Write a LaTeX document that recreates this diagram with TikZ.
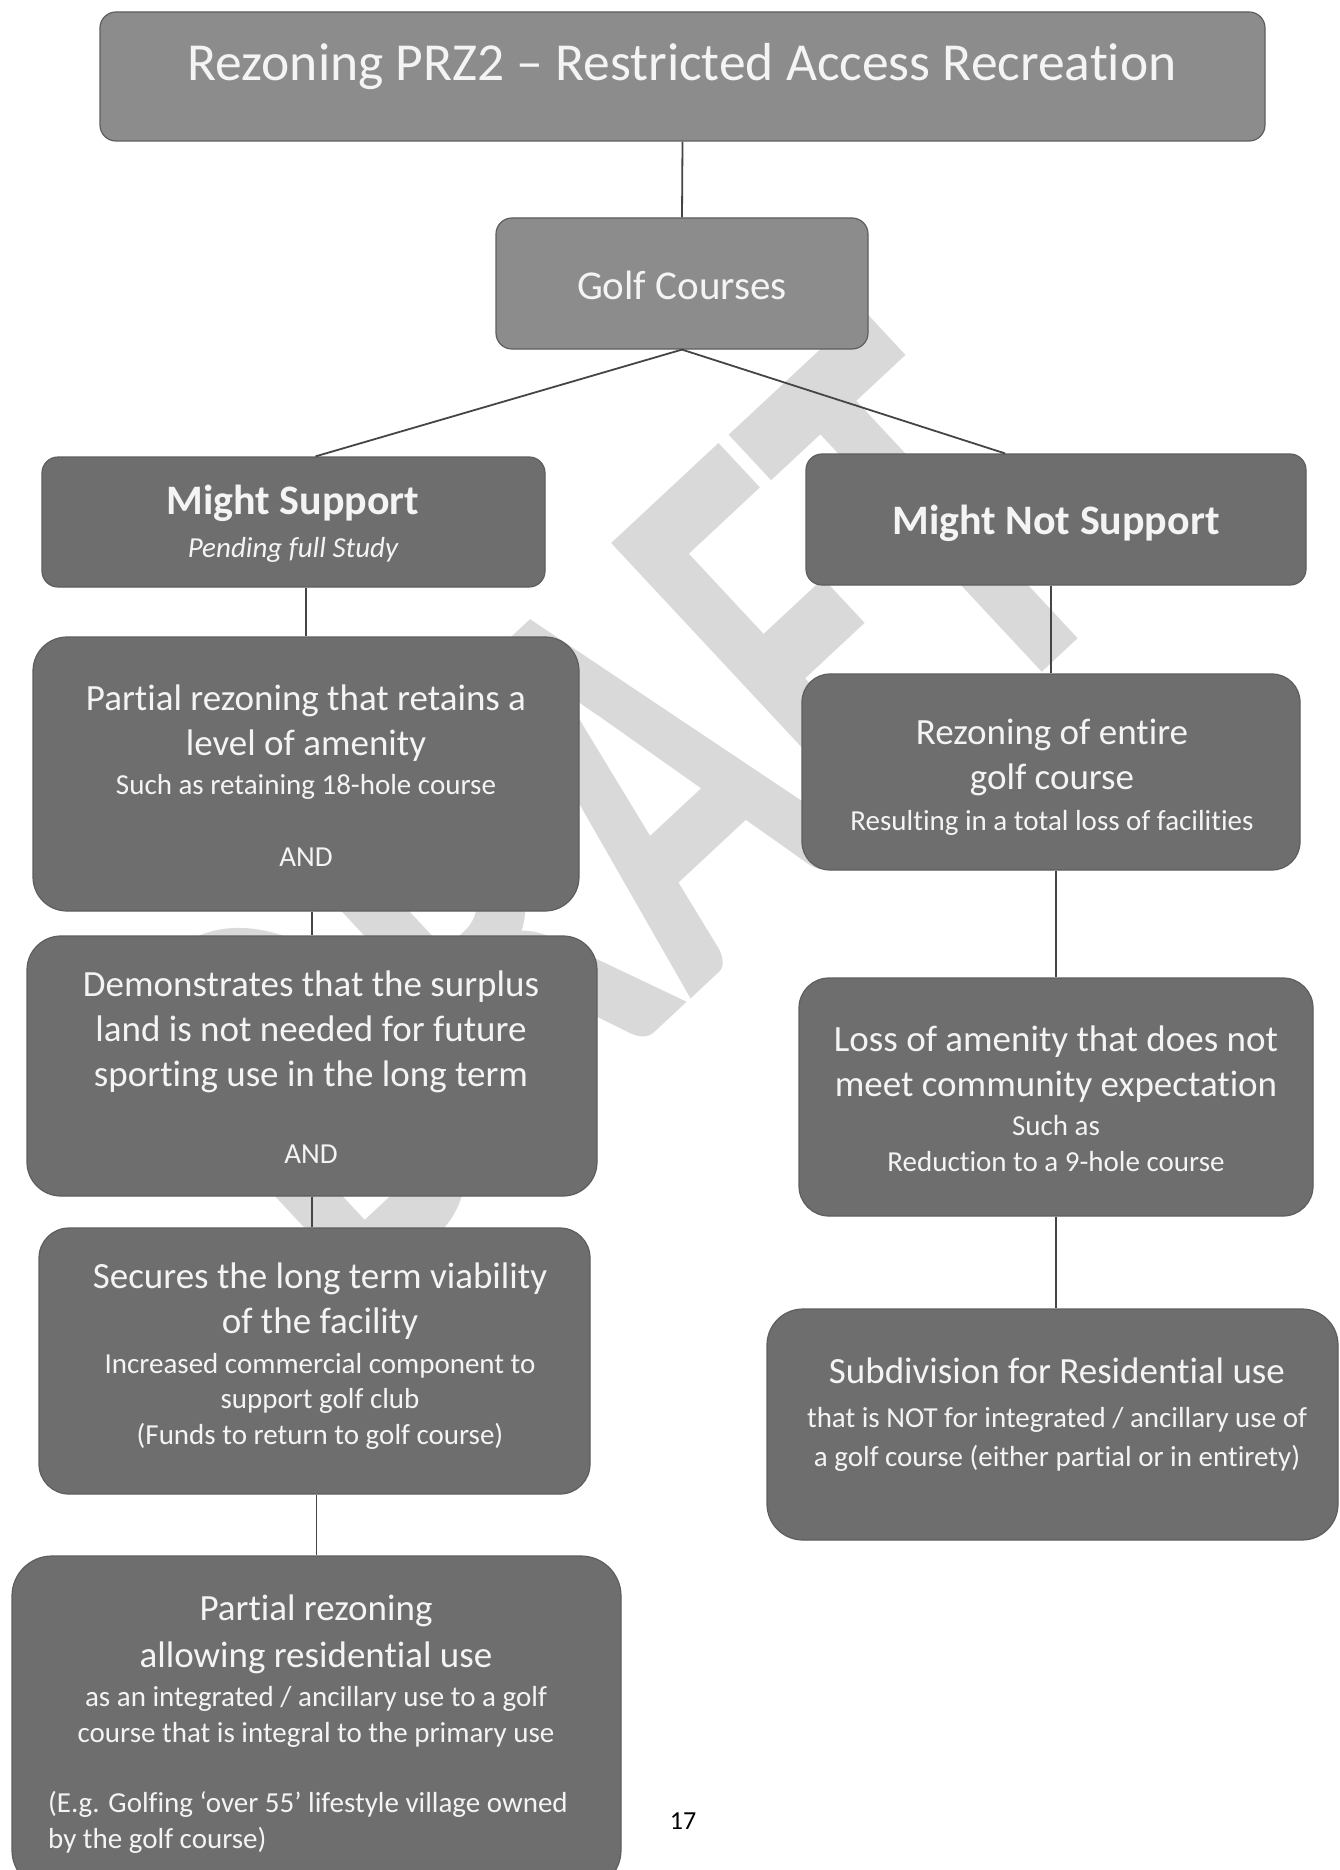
\documentclass[tikz,border=0pt]{standalone}
\usepackage{fontspec}
\setmainfont{Carlito}[Ligatures=NoCommon]
\usetikzlibrary{positioning}
\definecolor{boxlight}{HTML}{8C8C8C}
\definecolor{boxdark}{HTML}{6E6E6E}
\definecolor{boxedge}{HTML}{5E5E5E}
\definecolor{wmgray}{HTML}{D9D9D9}
\definecolor{linkgray}{HTML}{454545}
\definecolor{txtwhite}{HTML}{F4F4F4}
\newcommand{\bigln}{\fontsize{37}{45}\selectfont}
\newcommand{\smln}{\fontsize{29}{36}\selectfont}

\begin{document}
\begin{tikzpicture}[x=1pt,y=-1pt,
		lightbox/.style={draw=boxedge, fill=boxlight, rounded corners=16pt, line width=1.2pt},
		darkbox/.style={draw=boxedge, fill=boxdark, rounded corners=#1, line width=1.2pt},
		boxtext/.style={text=txtwhite, align=center, inner sep=0pt},
		link/.style={draw=linkgray, line width=1.8pt}]
		\useasboundingbox[fill=white] (0,0) rectangle (1339,1870);
		% watermark
		\node[font=\bfseries\fontsize{385}{385}\selectfont, text=wmgray, rotate=43, inner sep=0pt] (wm) at (610,810) {\scalebox{1}[1.55]{DRAFT}};
		% boxes
		\node[lightbox, minimum width=1165pt, minimum height=129pt] (title) at (682.5,76.5) {};
		\node[lightbox, minimum width=372pt, minimum height=131pt] (golf) at (682,283.5) {};
		\foreach \n/\cx/\cy/\w/\h/\r in {
			ms/293.5/522/503/130/16,
			mns/1056/519.5/500/131/16,
			p1/306/774/546/274/34,
			dem/312/1066/570/260/34,
			sec/314.5/1361/551/266/30,
			pres/316.5/1723/609/334/40,
			re/1051/772/498/196/28,
			loss/1056/1097/514/238/30,
			sub/1052.5/1424.5/571/231/36}{
			\node[darkbox=\r pt, minimum width=\w pt, minimum height=\h pt] (\n) at (\cx,\cy) {};
		}
		% connectors
		\draw[link] (title.south) -- (golf.north);
		\draw[link] (golf.south) -- ([xshift=22pt]ms.north);
		\draw[link] (golf.south) -- ([xshift=-51pt]mns.north);
		\draw[link] (ms.south -| p1.north) -- (p1.north);
		\draw[link] (p1.south -| dem.north) -- (dem.north);
		\draw[link] (dem.south) -- (dem.south |- sec.north);
		\draw[link] (sec.south -| pres.north) -- (pres.north);
		\draw[link] (mns.south -| re.north) -- (re.north);
		\draw[link] (re.south -| loss.north) -- (loss.north);
		\draw[link] (loss.south) -- (loss.south |- sub.north);
		% texts
		\node[boxtext, font=\fontsize{53.5}{64}\selectfont] (title-txt) at (682,67) {Rezoning PRZ2 -- Restricted Access Recreation};
		\node[boxtext, font=\fontsize{41}{50}\selectfont] (golf-txt) at (682,285) {Golf Courses};
		\node[boxtext, font=\fontsize{42}{43}\selectfont\bfseries] (ms-txt) at (293,524) {Might Support\\{\mdseries\itshape\fontsize{29}{36}\selectfont Pending full Study}};
		\node[boxtext, font=\fontsize{42}{43}\selectfont\bfseries] (mns-txt) at (1056,523) {Might Not Support};
		\node[boxtext, font=\bigln] (p1-txt) at (306,776) {Partial rezoning that retains a\\level of amenity\\[-6pt]{\smln Such as retaining 18-hole course}\\[27pt]{\smln AND}};
		\node[boxtext, font=\bigln] (dem-txt) at (311,1067) {Demonstrates that the surplus\\land is not needed for future\\sporting use in the long term\\[32pt]{\smln AND}};
		\node[boxtext, font=\bigln] (sec-txt) at (320,1356) {Secures the long term viability\\of the facility\\[-5pt]{\smln Increased commercial component to}\\[-10pt]{\smln support golf club}\\[-9pt]{\smln (Funds to return to golf course)}};
		\node[boxtext, font=\bigln] (pres-txt) at (316,1671) {Partial rezoning\\[2pt]allowing residential use\\[-6pt]{\smln as an integrated / ancillary use to a golf}\\[-9pt]{\smln course that is integral to the primary use}};
		\node[boxtext, font=\smln, align=left, anchor=west] (pres-note) at (48,1822) {(E.g. Golfing ‘over 55’ lifestyle village owned\\by the golf course)};
		\node[boxtext, font=\bigln] (re-txt) at (1052,777) {Rezoning of entire\\golf course\\[-4pt]{\smln Resulting in a total loss of facilities}};
		\node[boxtext, font=\bigln] (loss-txt) at (1056,1099) {Loss of amenity that does not\\meet community expectation\\[-6pt]{\smln Such as}\\[-9pt]{\smln Reduction to a 9-hole course}};
		\node[boxtext, font=\bigln] (sub-txt) at (1057,1415) {Subdivision for Residential use\\[-1pt]{\smln that is NOT for integrated / ancillary use of}\\[-6pt]{\smln a golf course (either partial or in entirety)}};
		\node[font=\fontsize{26}{30}\selectfont, inner sep=0pt] (pagenum) at (683,1821) {17};
	\end{tikzpicture}
\end{document}
